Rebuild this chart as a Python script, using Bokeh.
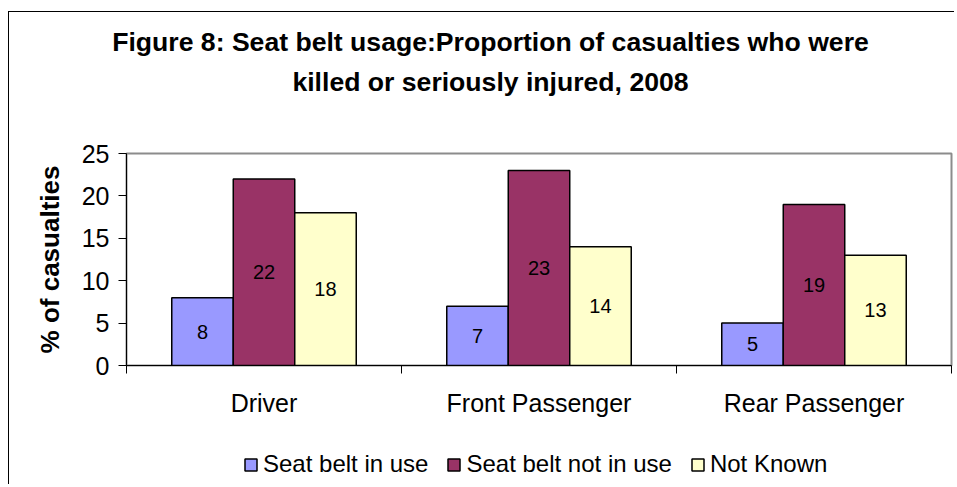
from bokeh.plotting import figure
from bokeh.layouts import column
from bokeh.models import (ColumnDataSource, FixedTicker, Legend, LegendItem, LabelSet, Label,
                          Range1d)
from bokeh.core.properties import value
from bokeh.embed import file_html
from bokeh.resources import INLINE

# ---- data ----
categories = ["Driver", "Front Passenger", "Rear Passenger"]
series_names = ["Seat belt in use", "Seat belt not in use", "Not Known"]
belt_in_use = [8, 7, 5]
belt_not_in_use = [22, 23, 19]
not_known = [18, 14, 13]
y_ticks = [0, 5, 10, 15, 20, 25]
title_lines = ["Figure 8: Seat belt usage:Proportion of casualties who were",
               "killed or seriously injured, 2008"]
y_label = "% of casualties"

colors = ["#9999FF", "#993366", "#FFFFCC"]
FONT = "Liberation Sans"
W = 945
LEFT = 117


def blank_fig(h):
    f = figure(width=W, height=h, x_range=Range1d(0, 1), y_range=Range1d(0, 1),
               x_axis_type=None, y_axis_type=None, output_backend="svg",
               toolbar_location=None, title=None, min_border=0)
    f.outline_line_color = None
    f.background_fill_color = "white"
    f.border_fill_color = "white"
    return f


t = blank_fig(98)
lg = blank_fig(44)
# keep the text panels' frames full width (do not align them with the chart's frame)
try:
    t.frame_align = False
    lg.frame_align = False
    shift = 0
except Exception:
    shift = LEFT

# ---- title panel ----
for k, line in enumerate(title_lines):
    t.add_layout(Label(x=481 - shift, y=69 - k * 40, x_units="screen", y_units="screen",
                       text=line, text_align="center", text_baseline="middle",
                       text_font=FONT, text_font_size="26.6px", text_font_style="bold",
                       text_color="black"))

# ---- main chart ----
p = figure(width=W, height=330, x_range=(0, len(categories)), y_range=(0, 25),
           output_backend="svg", toolbar_location=None, title=None,
           min_border_left=LEFT, min_border_right=3, min_border_top=43, min_border_bottom=75)
p.xgrid.visible = False
p.ygrid.visible = False
p.outline_line_color = "#8c8c8c"
p.outline_line_width = 2
p.background_fill_color = "white"
p.border_fill_color = "white"

bw = 0.2236
sources = []
all_series = [belt_in_use, belt_not_in_use, not_known]
for j, vals in enumerate(all_series):
    xs = [i + 0.5 + (j - 1) * bw for i in range(len(categories))]
    src = ColumnDataSource(dict(x=xs, top=vals, ymid=[v / 2 for v in vals],
                                txt=[str(v) for v in vals]))
    sources.append(src)
    p.vbar(x="x", top="top", width=bw, source=src, fill_color=colors[j],
           line_color="black", line_width=1.5)
    p.add_layout(LabelSet(x="x", y="ymid", text="txt", source=src, text_align="center",
                          text_baseline="middle", text_font=value(FONT),
                          text_font_size=value("20px"), text_color="black"))

# x axis
p.xaxis.ticker = FixedTicker(ticks=[i + 0.5 for i in range(len(categories))],
                             minor_ticks=list(range(len(categories) + 1)))
p.xaxis.major_label_overrides = {i + 0.5: c for i, c in enumerate(categories)}
p.xaxis.major_tick_out = 0
p.xaxis.major_tick_in = 0
p.xaxis.minor_tick_out = 8
p.xaxis.minor_tick_in = 0
p.xaxis.minor_tick_line_color = "black"
p.xaxis.axis_line_color = "black"
p.xaxis.major_label_standoff = 15
p.xaxis.major_label_text_font = FONT
p.xaxis.major_label_text_font_size = "25px"
p.xaxis.major_label_text_color = "black"

# y axis
p.yaxis.ticker = FixedTicker(ticks=y_ticks, minor_ticks=[])
p.yaxis.major_tick_out = 8
p.yaxis.major_tick_in = 0
p.yaxis.major_tick_line_color = "black"
p.yaxis.axis_line_color = "black"
p.yaxis.major_label_standoff = 9
p.yaxis.major_label_text_font = FONT
p.yaxis.major_label_text_font_size = "25px"
p.yaxis.major_label_text_color = "black"
p.yaxis.axis_label = y_label
p.yaxis.axis_label_text_font = FONT
p.yaxis.axis_label_text_font_size = "26px"
p.yaxis.axis_label_text_font_style = "bold"
p.yaxis.axis_label_text_color = "black"
p.yaxis.axis_label_standoff = 14

# ---- legend panel ----
leg_renderers = []
for j, src in enumerate(sources):
    r = lg.vbar(x="x", top="top", width=bw, source=src, fill_color=colors[j],
                line_color="black", line_width=1.5, visible=False)
    leg_renderers.append(r)
legend = Legend(items=[LegendItem(label=n, renderers=[r]) for n, r in zip(series_names, leg_renderers)],
                orientation="horizontal", location=(234 - shift, 6),
                glyph_width=15, glyph_height=15, label_standoff=5, spacing=18,
                padding=0, margin=0, border_line_color=None, background_fill_alpha=0,
                inactive_fill_alpha=0,
                label_text_font=FONT, label_text_font_size="24px", label_text_color="black")
lg.add_layout(legend, "center")

layout = column(t, p, lg, spacing=0,
                styles={"margin-left": "8px", "margin-top": "11px",
                        "border-left": "1px solid black", "border-top": "1px solid black"})

open("out.html", "w").write(file_html(layout, INLINE))
